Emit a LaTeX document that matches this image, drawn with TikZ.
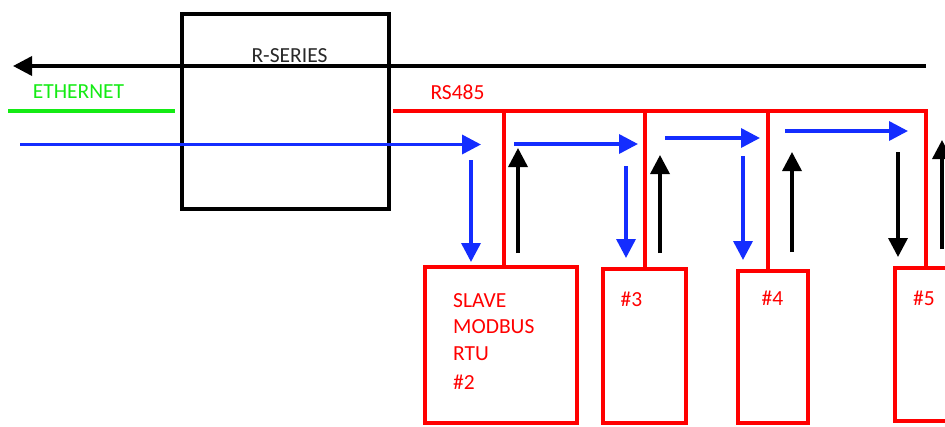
\documentclass[tikz,border=0pt]{standalone}
\usepackage{fontspec}
\setmainfont{Carlito}
\usetikzlibrary{arrows.meta}
\definecolor{myred}{RGB}{255,0,0}
\definecolor{myblue}{RGB}{20,45,255}
\definecolor{mygreen}{RGB}{20,235,20}
\definecolor{mygray}{RGB}{40,40,40}
\tikzset{
  arr/.style={-{Triangle[length=19pt,width=19pt]}, line width=3.5pt},
  blk/.style={arr, draw=black},
  blu/.style={arr, draw=myblue},
  redline/.style={draw=myred, line width=4pt},
  greenline/.style={draw=mygreen, line width=4pt},
  redbox/.style={draw=myred, line width=4pt, outer sep=0pt, inner sep=0pt},
  lbl/.style={inner sep=0pt, font=\fontsize{21.5}{27}\selectfont},
}
\begin{document}
\begin{tikzpicture}[x=1pt,y=-1pt]
\useasboundingbox (0,0) rectangle (945,426);
\clip (0,0) rectangle (945,426);
% R-SERIES box
\node[draw=black, line width=3.5pt, minimum width=207pt, minimum height=195pt, inner sep=0pt, outer sep=0pt] (rs) at (285.5,111.5) {};
\node[lbl, text=mygray] (rslbl) at (289.5,56) {R-SERIES};
% Ethernet return line
\coordinate (ethR) at (926,66);
\coordinate (ethL) at (13,66);
\draw[blk] (ethR) -- (ethL);
% Ethernet
\node[lbl, text=mygreen] (ethlbl) at (78.5,92) {ETHERNET};
\coordinate (g1) at (8,111);
\coordinate (g2) at (175,111);
\draw[greenline] (g1) -- (g2);
% RS485
\node[lbl, text=myred] (rs485) at (457.5,92) {RS485};
% slave boxes
\node[redbox, minimum width=152pt, minimum height=156pt] (slave) at (501,345) {};
\node[redbox, minimum width=83pt, minimum height=154pt] (n3) at (644.5,346) {};
\node[redbox, minimum width=70pt, minimum height=152pt] (n4) at (773,347) {};
\node[redbox, minimum width=70pt, minimum height=153pt] (n5) at (930,344.5) {};
% bus
\coordinate (busL) at (393,111);
\coordinate (busR) at (926,111);
\draw[redline] (busL) -- (busR) -- (busR |- n5.north);
\coordinate (t2) at (504,111);
\coordinate (t3) at (645,111);
\coordinate (t4) at (768,111);
\draw[redline] (t2) -- (t2 |- slave.north);
\draw[redline] (t3) -- (t3 |- n3.north);
\draw[redline] (t4) -- (t4 |- n4.north);
% arrows
\coordinate (b1s) at (20,144.5);  \coordinate (b1e) at (481,144.5);
\coordinate (d1s) at (471,160);   \coordinate (d1e) at (471,262);
\coordinate (u1s) at (518,253);   \coordinate (u1e) at (518,148);
\coordinate (b2s) at (514,144);   \coordinate (b2e) at (638,144);
\coordinate (d2s) at (626,166);   \coordinate (d2e) at (626,258);
\coordinate (u2s) at (660,253);   \coordinate (u2e) at (660,155);
\coordinate (b3s) at (665,138);   \coordinate (b3e) at (760,138);
\coordinate (d3s) at (743,156);   \coordinate (d3e) at (743,260);
\coordinate (u3s) at (792,252);   \coordinate (u3e) at (792,152);
\coordinate (b4s) at (785,131);   \coordinate (b4e) at (908,131);
\coordinate (k4s) at (898,152);   \coordinate (k4e) at (898,257);
\coordinate (u4s) at (942,249);   \coordinate (u4e) at (942,140);
\draw[blu] (b1s) -- (b1e);
\draw[blu] (d1s) -- (d1e);
\draw[blk] (u1s) -- (u1e);
\draw[blu] (b2s) -- (b2e);
\draw[blu] (d2s) -- (d2e);
\draw[blk] (u2s) -- (u2e);
\draw[blu] (b3s) -- (b3e);
\draw[blu] (d3s) -- (d3e);
\draw[blk] (u3s) -- (u3e);
\draw[blu] (b4s) -- (b4e);
\draw[blk] (k4s) -- (k4e);
\draw[blk] (u4s) -- (u4e);
% texts
\node[lbl, text=myred, anchor=west] (s1) at (453,301) {SLAVE};
\node[lbl, text=myred, anchor=west] (s2) at (453,327) {MODBUS};
\node[lbl, text=myred, anchor=west] (s3) at (453,354) {RTU};
\node[lbl, text=myred, anchor=west] (s4) at (453,382) {\#2};
\node[lbl, text=myred] (l3) at (631.5,299) {\#3};
\node[lbl, text=myred] (l4) at (772.5,298) {\#4};
\node[lbl, text=myred] (l5) at (924,298.5) {\#5};
\end{tikzpicture}
\end{document}
